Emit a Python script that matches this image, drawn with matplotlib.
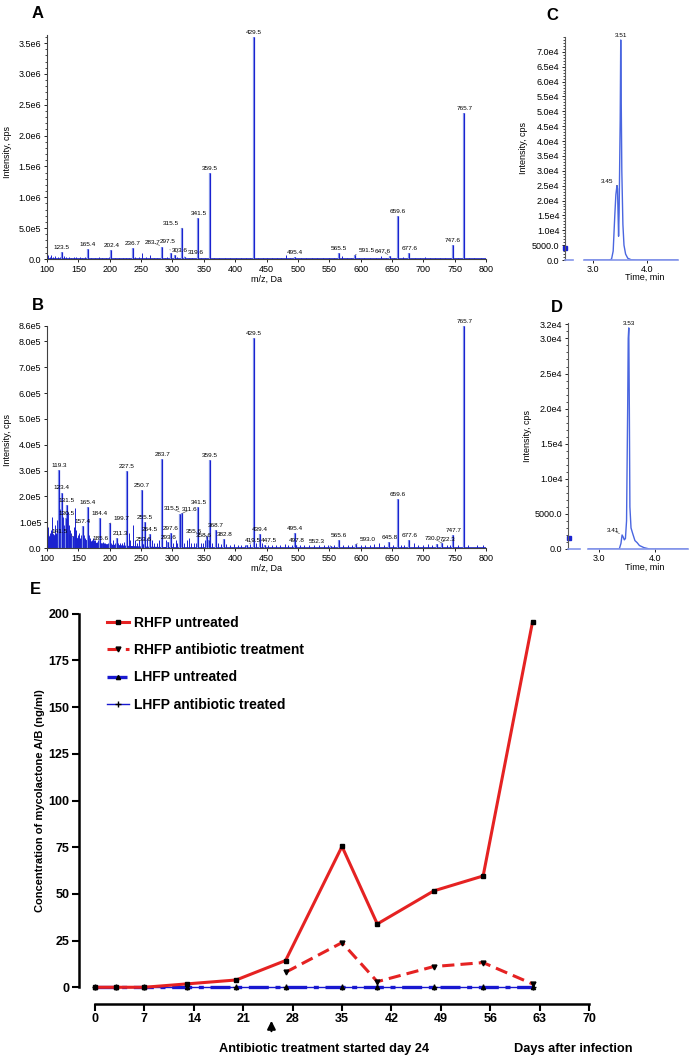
import matplotlib
matplotlib.use("Agg")
import matplotlib.pyplot as plt
from matplotlib.ticker import MultipleLocator

plt.rcParams["font.family"] = ["Liberation Sans", "DejaVu Sans"]
NARROW = ["Liberation Sans Narrow", "Liberation Sans", "DejaVu Sans"]

# ---------------- data: panel A (MS spectrum, sample) ----------------
a_peak_mz = [123.5, 165.4, 202.4, 236.7, 283.7, 297.5, 303.6, 315.5, 319.6, 341.5,
             359.5, 429.5, 495.4, 565.5, 591.5, 647.6, 659.6, 677.6, 747.6, 765.7]
a_peak_int = [1.2e5, 1.6e5, 1.4e5, 1.8e5, 2.0e5, 1.0e5, 0.7e5, 5.0e5, 0.4e5, 6.6e5,
              1.39e6, 3.6e6, 0.4e5, 0.9e5, 0.7e5, 0.5e5, 7.0e5, 1.0e5, 2.3e5, 2.36e6]
a_minor_mz = [101, 104, 107, 110, 113, 117, 120, 127, 131, 135,
              139, 143, 147, 152, 156, 160, 170, 177, 183, 188,
              194, 199, 208, 215, 221, 226, 231, 241, 247, 252,
              258, 264, 270, 276, 288, 292, 307, 326, 332, 346,
              352, 366, 375, 384, 392, 401, 410, 418, 424, 437,
              444, 451, 459, 466, 473, 481, 488, 505, 513, 522,
              531, 540, 549, 557, 570, 578, 584, 598, 606, 615,
              624, 633, 641, 653, 668, 686, 694, 703, 711, 719,
              727, 735, 742, 755, 773, 781, 792]
a_minor_int = [6e4, 4e4, 7e4, 3e4, 5e4, 3e4, 4e4, 5e4, 3e4, 4e4,
               2e4, 3e4, 3e4, 4e4, 2e4, 3e4, 2e4, 2e4, 3e4, 2e4,
               2e4, 3e4, 2e4, 2e4, 2e4, 2e4, 2e4, 3e4, 4e4, 1e5,
               3e4, 6e4, 2e4, 2e4, 2e4, 3e4, 4e4, 2e4, 2e4, 2e4,
               2e4, 2e4, 1e4, 1.5e4, 1e4, 1e4, 1.5e4, 1e4, 1e4, 2e4,
               2e4, 1e4, 1.5e4, 1e4, 1e4, 6e4, 1.5e4, 2e4, 1e4, 1e4,
               1.5e4, 1e4, 1e4, 2e4, 5e4, 2e4, 1e4, 2e4, 1.5e4, 1e4,
               1e4, 5e4, 1.5e4, 2e4, 3e4, 1e4, 1e4, 3e4, 1.5e4, 1e4,
               1.5e4, 1e4, 1e4, 1e4, 1e4, 1e4, 1e4]
a_yticks = [0, 0.5e6, 1.0e6, 1.5e6, 2.0e6, 2.5e6, 3.0e6, 3.5e6]
a_yticklabels = ["0.0", "5.0e5", "1.0e6", "1.5e6", "2.0e6", "2.5e6", "3.0e6", "3.5e6"]

# ---------------- data: panel B (MS spectrum, standard) ----------------
b_peak_mz = [119.3, 123.4, 130.5, 131.5, 141.5, 157.4, 165.4, 184.4, 185.6, 199.7,
             211.3, 227.5, 250.7, 253.6, 255.5, 264.5, 283.7, 293.6, 297.6, 311.6,
             315.5, 341.5, 355.6, 358.6, 359.5, 368.7, 382.8, 419.5, 429.5, 439.4,
             447.5, 495.4, 497.8, 552.3, 565.6, 593.0, 645.8, 659.6, 677.6, 722.3,
             730.0, 747.7, 765.7]
b_peak_int = [3.03e5, 2.15e5, 1.15e5, 1.65e5, 0.45e5, 0.85e5, 1.6e5, 1.15e5, 0.2e5, 0.95e5,
              0.4e5, 3.0e5, 2.25e5, 0.15e5, 1.0e5, 0.55e5, 3.45e5, 0.25e5, 0.6e5, 1.3e5,
              1.35e5, 1.6e5, 0.45e5, 0.3e5, 3.42e5, 0.7e5, 0.35e5, 0.1e5, 8.15e5, 0.55e5,
              0.1e5, 0.6e5, 0.1e5, 0.08e5, 0.3e5, 0.15e5, 0.25e5, 1.9e5, 0.3e5, 0.15e5,
              0.2e5, 0.5e5, 8.6e5]
b_minor_mz = [100.5, 102, 104, 106, 108, 110, 112, 114, 116, 118,
              121, 125, 127, 129, 133, 135, 137, 139, 143, 145,
              147, 149, 151, 153, 155, 159, 161, 163, 167, 169,
              171, 173, 175, 177, 179, 181, 187, 189, 191, 193,
              195, 197, 202, 205, 208, 214, 217, 220, 223, 230,
              233, 237, 240, 243, 246, 260, 268, 271, 275, 279,
              290, 301, 305, 308, 319, 323, 326, 330, 334, 338,
              345, 348, 352, 363, 372, 377, 386, 392, 398, 404,
              410, 415, 423, 434, 443, 452, 458, 465, 472, 479,
              485, 490, 503, 510, 518, 526, 533, 541, 548, 558,
              572, 580, 586, 600, 607, 615, 622, 630, 638, 652,
              665, 670, 685, 692, 700, 707, 714, 738, 742, 755,
              772, 785, 795]
b_minor_int = [1.2e5, 8e4, 6e4, 7e4, 1.2e5, 5e4, 9e4, 6e4, 1.1e5, 8e4,
               1.5e5, 1.2e5, 9e4, 1.1e5, 1.4e5, 9e4, 7e4, 6e4, 8e4, 1.55e5,
               7e4, 5e4, 6e4, 4e4, 5e4, 5e4, 4e4, 6e4, 5e4, 4e4,
               3e4, 4e4, 3e4, 3e4, 2.5e4, 3e4, 2e4, 2.5e4, 2e4, 2e4,
               1.5e4, 2e4, 2e4, 3e4, 2e4, 2e4, 2e4, 2e4, 2.5e4, 6e4,
               3e4, 9e4, 3e4, 2e4, 3e4, 4e4, 3e4, 2e4, 2e4, 3e4,
               3e4, 2e4, 3e4, 2e4, 2e4, 3e4, 4e4, 2e4, 2e4, 2e4,
               2e4, 2e4, 3e4, 2e4, 2e4, 1.5e4, 1.5e4, 1e4, 1.5e4, 1e4,
               1e4, 1e4, 1.5e4, 2e4, 2e4, 1e4, 1e4, 1e4, 1e4, 1.5e4,
               1e4, 1e4, 1e4, 1e4, 1e4, 1e4, 1e4, 1e4, 1e4, 1e4,
               1e4, 1e4, 1e4, 1e4, 1e4, 1e4, 1.5e4, 2e4, 1e4, 1e4,
               1e4, 1e4, 2e4, 1e4, 1e4, 1.5e4, 1e4, 1e4, 1e4, 1e4,
               1e4, 1e4, 1e4]
b_grass_mz = [100, 104, 108, 112, 116, 120, 124, 128, 132, 136,
              140, 144, 148, 152, 156, 160, 165, 170, 175, 180,
              190, 200, 210, 220, 230, 240, 260, 280, 300]
b_grass_int = [6e4, 4.5e4, 6e4, 5e4, 5.5e4, 7e4, 6e4, 6e4, 6.5e4, 5e4,
               4.5e4, 5e4, 4e4, 3.5e4, 4e4, 3.5e4, 3e4, 2.8e4, 2.5e4, 2e4,
               1.8e4, 1.5e4, 1.4e4, 1.2e4, 1e4, 0.9e4, 0.7e4, 0.6e4, 0.5e4]
b_yticks = [0, 1e5, 2e5, 3e5, 4e5, 5e5, 6e5, 7e5, 8e5, 8.6e5]
b_yticklabels = ["0.0", "1.0e5", "2.0e5", "3.0e5", "4.0e5", "5.0e5", "6.0e5",
                 "7.0e5", "8.0e5", "8.6e5"]

# ---------------- data: panels C and D (chromatograms) ----------------
c_time = [2.83, 3.30, 3.34, 3.37, 3.40, 3.42, 3.44, 3.45, 3.47, 3.48,
          3.50, 3.51, 3.52, 3.53, 3.55, 3.57, 3.60, 3.64, 3.70, 3.80, 4.57]
c_int = [0, 0, 300, 3000, 15000, 22000, 25000, 24000, 8000, 16000,
         47000, 74000, 52000, 30000, 12000, 5000, 2000, 600, 100, 0, 0]
c_yticks = [0, 5000, 10000, 15000, 20000, 25000, 30000, 35000, 40000, 45000,
            50000, 55000, 60000, 65000, 70000]
c_yticklabels = ["0.0", "5000.0", "1.0e4", "1.5e4", "2.0e4", "2.5e4", "3.0e4", "3.5e4",
                 "4.0e4", "4.5e4", "5.0e4", "5.5e4", "6.0e4", "6.5e4", "7.0e4"]
c_peak_t = [3.45, 3.51]
c_peak_int = [25000, 74000]

d_time = [2.80, 3.36, 3.39, 3.41, 3.43, 3.45, 3.47, 3.49, 3.51, 3.52,
          3.53, 3.54, 3.55, 3.57, 3.60, 3.64, 3.68, 3.72, 3.80, 3.90, 4.59]
d_int = [0, 0, 800, 2000, 1700, 1300, 1500, 4000, 20000, 30000,
         31500, 20000, 6000, 3000, 2200, 1200, 900, 500, 200, 0, 0]
d_yticks = [0, 5000, 10000, 15000, 20000, 25000, 30000, 32000]
d_yticklabels = ["0.0", "5000.0", "1.0e4", "1.5e4", "2.0e4", "2.5e4", "3.0e4", "3.2e4"]
d_peak_t = [3.41, 3.53]
d_peak_int = [2000, 31500]

# ---------------- data: panel E (mycolactone time course) ----------------
days_all = [0, 3, 7, 13, 20, 27, 35, 40, 48, 55, 62]
rhfp_untreated = [0, 0, 0, 1.8, 3.9, 14.3, 75.4, 33.9, 51.6, 59.6, 195.7]
days_treated = [27, 35, 40, 48, 55, 62]
rhfp_antibiotic = [8.0, 23.9, 3.0, 11.1, 13.2, 1.8]
lhfp_untreated = [0, 0, 0, 0, 0, 0, 0, 0, 0, 0, 0]
lhfp_antibiotic = [0, 0, 0, 0, 0, 0, 0, 0, 0, 0, 0]
e_xticks = [0, 7, 14, 21, 28, 35, 42, 49, 56, 63, 70]
e_yticks = [0, 25, 50, 75, 100, 125, 150, 175, 200]
treatment_day = 25

BLUE = "#1a22d0"
LIGHT = "#8596ea"
RED = "#e52222"
EBLUE = "#1818d0"

W, H = 693, 1059
fig = plt.figure(figsize=(W / 100, H / 100), dpi=100)


def box(left, top, right, bottom):
    # pixel box -> figure fraction
    return [left / W, 1 - bottom / H, (right - left) / W, (bottom - top) / H]


def style_ms(ax):
    for s in ["top", "right"]:
        ax.spines[s].set_visible(False)
    for s in ["left", "bottom"]:
        ax.spines[s].set_color("0.25")
        ax.spines[s].set_linewidth(0.8)
    ax.tick_params(labelsize=6.5, length=2.5, width=0.6, pad=1.5)


def spectrum(ax, minor_mz, minor_int, peak_mz, peak_int, nudges):
    ax.axhline(0, color=BLUE, lw=1.2, zorder=1)
    ax.vlines(minor_mz, 0, minor_int, color=BLUE, lw=0.7)
    ax.vlines(peak_mz, 0, peak_int, color=LIGHT, lw=1.6)
    ax.vlines(peak_mz, 0, peak_int, color=BLUE, lw=0.8)
    for mz, h in zip(peak_mz, peak_int):
        dx, dy = nudges.get(mz, (0, 0))
        props = dict(arrowstyle="-", lw=0.4, color="0.3") if dx else None
        ax.annotate(f"{mz:.1f}", (mz, h), xytext=(dx, 2 + dy), textcoords="offset pixels",
                    ha="center", va="bottom", fontsize=4.6, annotation_clip=False,
                    arrowprops=props)
    ax.set_xlim(100, 800)
    ax.set_xticks(range(100, 801, 50))
    ax.set_xlabel("m/z, Da", fontsize=6.5, labelpad=1)
    style_ms(ax)


def ylabel_px(x, y, text):
    fig.text(x / W, 1 - y / H, text, rotation=90, ha="center", va="center", fontsize=6.5)


# ---------------- A ----------------
axA = fig.add_axes(box(47, 35, 486, 259))
spectrum(axA, a_minor_mz, a_minor_int, a_peak_mz, a_peak_int,
         {283.7: (-10, 0), 297.5: (-3, 7), 303.6: (5, 0), 315.5: (-11, 0),
          319.6: (11, 0), 591.5: (12, 0), 647.6: (-8, 0)})
axA.set_ylim(0, 3.63e6)
axA.set_yticks(a_yticks)
axA.set_yticklabels(a_yticklabels)
axA.yaxis.set_minor_locator(MultipleLocator(1e5))
axA.tick_params(which="minor", length=1.5, width=0.5)
ylabel_px(8, 152, "Intensity, cps")

# ---------------- B ----------------
axB = fig.add_axes(box(47, 326, 486, 548))
axB.fill_between(b_grass_mz, 0, b_grass_int, color=BLUE, lw=0, zorder=1)
spectrum(axB, b_minor_mz, b_minor_int, b_peak_mz, b_peak_int,
         {141.5: (-13, 0), 199.7: (12, 0), 211.3: (4, 0), 315.5: (-10, 0),
          311.6: (10, 0), 355.6: (-13, 0), 358.6: (-5, 0), 419.5: (6, 0),
          447.5: (4, 0), 552.3: (-14, 0), 593.0: (12, 0), 730.0: (-9, 0),
          722.3: (10, 0)})
axB.set_ylim(0, 8.6e5)
axB.set_yticks(b_yticks)
axB.set_yticklabels(b_yticklabels)
ylabel_px(8, 440, "Intensity, cps")


# ---------------- C / D ----------------
def chrom(stub_px, main_px, top, bottom, t, y, xlim, ymax, yticks, ylabels,
          peak_t, peak_int, nudge, mark, ylab_x, xlab_y):
    stub = fig.add_axes(box(stub_px[0], top, stub_px[1], bottom))
    main = fig.add_axes(box(main_px[0], top, main_px[1], bottom))
    for a in (stub, main):
        a.set_ylim(0, ymax)
        for s in ["top", "right"]:
            a.spines[s].set_visible(False)
        a.spines["bottom"].set_color(LIGHT)
        a.spines["bottom"].set_linewidth(1.2)
    stub.set_xlim(0, 1)
    stub.set_xticks([])
    stub.plot([0.05], [mark], marker="s", ms=2.5, color=BLUE, clip_on=False)
    stub.spines["left"].set_color("0.35")
    stub.set_yticks(yticks)
    stub.set_yticklabels(ylabels)
    stub.yaxis.set_minor_locator(MultipleLocator(1000))
    stub.tick_params(axis="y", labelsize=6.5, length=2.5, width=0.6, pad=1.5)
    stub.tick_params(axis="y", which="minor", length=1.5, width=0.5)
    ylabel_px(ylab_x, (top + bottom) / 2, "Intensity, cps")
    main.spines["left"].set_visible(False)
    main.set_yticks([])
    main.plot(t, y, color="#4a66e0", lw=1.0)
    main.set_xlim(*xlim)
    main.set_xticks([3.0, 4.0])
    main.set_xticklabels(["3.0", "4.0"])
    main.tick_params(axis="x", labelsize=6.5, length=2.5, width=0.6, pad=1)
    fig.text(645 / W, 1 - xlab_y / H, "Time, min", fontsize=6.5, ha="center", va="center")
    for pt, pi in zip(peak_t, peak_int):
        dx = nudge.get(pt, 0)
        props = dict(arrowstyle="-", lw=0.4, color="0.3") if dx else None
        main.annotate(f"{pt:.2f}", (pt, pi), xytext=(dx, 2), textcoords="offset pixels",
                      ha="center", va="bottom", fontsize=4.6, annotation_clip=False,
                      arrowprops=props)


chrom((565, 573), (584, 678), 37, 260, c_time, c_int, (2.83, 4.57), 75000,
      c_yticks, c_yticklabels, c_peak_t, c_peak_int, {3.45: -10}, 4000, 523, 277)
chrom((568, 580), (588, 688), 323, 549, d_time, d_int, (2.80, 4.59), 32200,
      d_yticks, d_yticklabels, d_peak_t, d_peak_int, {3.41: -9}, 1550, 527, 567)

# panel letters
fig.text(38 / W, 1 - 13 / H, "A", fontsize=12, fontweight="bold", ha="center", va="center")
fig.text(38 / W, 1 - 305 / H, "B", fontsize=12, fontweight="bold", ha="center", va="center")
fig.text(552 / W, 1 - 15 / H, "C", fontsize=12, fontweight="bold", ha="center", va="center")
fig.text(557 / W, 1 - 308 / H, "D", fontsize=12, fontweight="bold", ha="center", va="center")
fig.text(35 / W, 1 - 590 / H, "E", fontsize=12, fontweight="bold", ha="center", va="center")

# ---------------- E ----------------
axE = fig.add_axes(box(79, 610, 589, 991))
axE.plot(days_all, lhfp_antibiotic, color=EBLUE, lw=1.0, marker="+", ms=4,
         mec="black", label="LHFP antibiotic treated", zorder=2)
axE.plot(days_all, lhfp_untreated, color=EBLUE, lw=2.4, ls=(0, (6, 2, 1.5, 2)),
         marker="^", ms=3, mfc="black", mec="black", label="LHFP untreated", zorder=3)
axE.plot(days_treated, rhfp_antibiotic, color=RED, lw=2.2, ls=(0, (4, 2)),
         marker="v", ms=3.5, mfc="black", mec="black", label="RHFP antibiotic treatment",
         zorder=4)
axE.plot(days_all, rhfp_untreated, color=RED, lw=2.2, marker="s", ms=3.2,
         mfc="black", mec="black", label="RHFP untreated", zorder=5)
axE.set_xlim(-2.27, 70)
axE.set_ylim(-2, 202)
for s in ["top", "right"]:
    axE.spines[s].set_visible(False)
axE.spines["left"].set_bounds(0, 200)
axE.spines["bottom"].set_bounds(0, 70)
axE.spines["bottom"].set_position(("outward", 9))
for s in ["left", "bottom"]:
    axE.spines[s].set_linewidth(1.8)
axE.set_xticks(e_xticks)
axE.set_yticks(e_yticks)
axE.tick_params(length=5, width=1.5, pad=2)
for lab in axE.get_xticklabels() + axE.get_yticklabels():
    lab.set_family(NARROW)
    lab.set_fontweight("bold")
    lab.set_fontsize(9)
axE.set_ylabel("Concentration of mycolactone A/B (ng/ml)", fontsize=8, fontweight="bold",
               labelpad=2)

handles, labels = axE.get_legend_handles_labels()
order = [3, 2, 1, 0]
axE.legend([handles[i] for i in order], [labels[i] for i in order],
           loc="upper left", bbox_to_anchor=(107 / W, 1 - 616 / H),
           bbox_transform=fig.transFigure, frameon=False, borderaxespad=0,
           borderpad=0, handlelength=1.6, handletextpad=0.35, labelspacing=0.95,
           prop={"family": NARROW, "weight": "bold", "size": 10})

axE.annotate("", xy=(treatment_day, 1 - 1018 / H), xytext=(treatment_day, 1 - 1034 / H),
             xycoords=("data", "figure fraction"), textcoords=("data", "figure fraction"),
             arrowprops=dict(arrowstyle="-|>", lw=1.5, color="black", mutation_scale=12),
             annotation_clip=False)
fig.text(324 / W, 1 - 1049 / H, "Antibiotic treatment started day 24", ha="center",
         va="center", fontsize=9.2, fontweight="bold", family=NARROW)
fig.text(573 / W, 1 - 1049 / H, "Days after infection", ha="center", va="center",
         fontsize=9.2, fontweight="bold", family=NARROW)

fig.savefig("out.png", dpi=100)
